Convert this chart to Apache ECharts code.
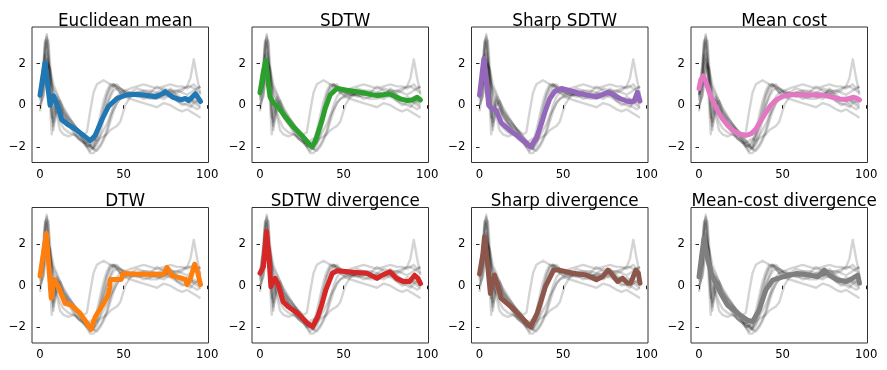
<!DOCTYPE html>
<html>
<head>
<meta charset="utf-8">
<title>barycenters</title>
<script src="https://cdn.jsdelivr.net/npm/echarts@6/dist/echarts.min.js"></script>
<style>
  html, body { margin: 0; padding: 0; background: #fff; }
  #main { width: 887px; height: 370px; }
</style>
</head>
<body>
<div id="main"></div>
<script>
// 输入序列（灰色）共用的 x 位置
var xs = [0,2,3,4,5,6,7,8,10,12,14,17,20,23,26,28,30,32,34,36,38,40,42,44,46,48,51,54,58,62,66,70,74,78,82,85,88,90,92,94,96];

// 十条灰色输入序列
var g1 = [0.5,1.8,3.0,3.3,2.4,0.8,-0.6,-0.2, 0.4,0.0,-0.5,-0.8,-1.0,-1.2,-1.5,-1.7,-1.9, -2.0,-1.5,-0.8,-0.1,0.5,0.9,1.0,0.9,0.8, 0.6,0.5,0.6,0.5,0.5,0.4,0.5,0.7,0.4,0.3, 0.2,0.1,0.3,0.2,0.1];
var g2 = [0.4,1.2,2.6,3.4,2.9,1.2,-0.2,-1.2, 0.2,-0.1,-0.4,-0.7,-1.1,-1.3,-1.6,-1.8,-2.0, -2.1,-1.6,-1.0,-0.3,0.4,0.8,1.0,0.8,0.6, 0.5,0.4,0.5,0.4,0.3,0.3,0.5,0.6,0.2,0.1, 0.0,-0.1,0.1,0.0,-0.1];
var g3 = [0.6,2.0,3.1,2.8,1.5,0.0,-1.4,-0.5, 0.3,-0.2,-0.6,-0.9,-1.1,-1.4,-1.7,-1.9,-2.0, -1.8,-1.2,-0.5,0.2,0.7,1.0,0.9,0.8,0.6, 0.4,0.5,0.6,0.6,0.4,0.5,0.4,0.8,0.5,0.3, 0.2,0.3,0.2,0.1,0.0];
var g4 = [0.5,1.0,2.2,3.0,3.1,2.0,0.5,-0.8, 0.0,0.2,-0.2,-0.6,-0.9,-1.2,-1.5,-1.7,-1.9, -2.1,-1.9,-1.4,-0.7,0.0,0.5,0.9,1.0,0.8, 0.6,0.5,0.5,0.6,0.5,0.5,0.6,0.5,0.3,0.2, 0.4,0.3,0.1,0.2,0.3];
var g5 = [-0.3,0.8,1.8,2.5,2.2,1.6,1.0,0.6, 0.3,0.0,-0.3,-0.6,-0.9,-1.2,-1.4,-1.3,-0.3, 0.6,1.0,1.1,1.2,1.1,1.0,1.0,0.9,0.8, 0.7,0.8,0.9,1.0,0.9,0.8,0.9,1.0,0.9,0.9, 0.8,0.9,0.8,0.7,0.6];
var g6 = [0.3,1.5,2.4,2.0,1.6,1.3,1.0,0.8, 0.5,0.2,-0.1,-0.5,-0.9,-1.3,-1.7,-2.0,-2.3, -2.3,-2.1,-1.9,-1.6,-1.2,-0.6,0.0,0.4,0.6, 0.7,0.6,0.8,0.7,0.6,0.9,0.7,0.6,0.7,0.8, 0.9,1.3,2.2,1.3,0.5];
var g7 = [0.0,0.5,1.2,1.8,2.0,1.7,1.2,0.5, -0.3,-0.8,-1.1,-1.3,-1.4,-1.6,-1.8,-2.0,-2.2, -2.0,-1.8,-1.6,-1.5,-1.4,-1.2,-1.1,-1.0,-0.8, 0.0,0.4,0.6,0.7,0.7,0.6,0.8,0.7,0.7,0.6, 0.5,0.6,0.7,0.8,0.9];
var g8 = [0.2,1.0,1.6,2.2,2.0,1.5,0.8,0.0, -0.5,-1.2,-1.4,-1.5,-1.4,-1.5,-1.7,-1.9,-2.0, -2.1,-2.2,-2.0,-1.7,-1.3,-0.8,-0.3,0.1,0.3, 0.4,0.3,0.2,0.1,0.0,-0.1,0.1,0.0,-0.2,-0.3, -0.2,-0.3,-0.4,-0.5,-0.6];
var g9 = [0.5,1.6,2.8,3.2,2.0,0.6,-0.4,-1.0, -0.3,-0.2,-0.5,-0.9,-1.3,-1.6,-1.8,-2.0,-1.9, -1.7,-1.4,-1.0,-0.5,0.0,0.4,0.7,0.8,0.7, 0.6,0.6,0.5,0.3,0.4,0.6,0.5,0.4,0.2,0.0, 0.1,0.0,-0.1,-0.2,-0.1];
var g10 = [0.0,0.4,1.0,1.6,1.9,1.8,1.4,1.0, 0.6,0.2,-0.3,-0.8,-1.2,-1.6,-1.8,-1.8,-1.7, -1.6,-1.7,-1.5,-1.2,-0.9,-0.5,-0.2,0.1,0.3, 0.5,0.6,0.4,0.5,0.6,0.4,0.3,0.5,0.6,0.7, 0.9,0.9,1.0,0.8,0.9];

// 各方法得到的重心序列
var blueX = [0,3,4.5,6,8,9,11,13,17,22,26,30,33,37,41,46,51,56,63,69,72,75,79,84,87,89,93,96];
var blueY = [0.48,2.05,1.0,0.0,0.45,0.4,-0.15,-0.7,-0.95,-1.2,-1.45,-1.7,-1.45,-0.7,-0.05,0.32,0.48,0.52,0.48,0.4,0.5,0.65,0.4,0.25,0.32,0.22,0.55,0.18];
var greenX = [0,2,3.5,5,6,8,11,15,20,25,31,33,35,37,39,42,46,52,60,66,70,74,77,80,84,88,91,94,96];
var greenY = [0.6,1.6,2.15,1.0,0.4,0.1,-0.1,-0.55,-1.05,-1.45,-2.0,-1.75,-1.25,-0.75,-0.15,0.5,0.8,0.72,0.62,0.52,0.46,0.5,0.55,0.45,0.3,0.22,0.25,0.38,0.25];
var purpleX = [0,2.6,4,5.5,7,10,13,18,25,30.5,34,37,39.5,42,45,49,55,60,65,70,74,77,80,84,88,91,92.5,94.5,96];
var purpleY = [0.48,2.24,1.2,0.0,-0.15,-0.25,-0.85,-1.2,-1.6,-2.0,-1.6,-0.9,-0.25,0.3,0.65,0.8,0.68,0.56,0.47,0.4,0.52,0.62,0.5,0.32,0.2,0.15,0.2,0.62,0.2];
var pinkX = [0,1,2.5,4,6,8,11,14,17,20,24,28,31,34,37,40,43,46,50,55,60,65,70,75,80,84,88,92,94,96];
var pinkY = [0.8,1.2,1.4,1.15,0.65,0.25,-0.25,-0.65,-0.95,-1.2,-1.38,-1.45,-1.38,-1.15,-0.75,-0.35,0.0,0.25,0.42,0.5,0.5,0.48,0.5,0.47,0.38,0.3,0.27,0.38,0.35,0.25];
var orangeX = [0,3.8,6.7,8.3,11,15,19,24,29.5,30.5,33,38,40.7,41.7,42,48.6,49.6,60,74,76,79,83,87,88,90,92.5,94,96];
var orangeY = [0.47,2.5,-0.6,0.3,-0.05,-0.85,-0.95,-1.33,-1.97,-2.1,-1.5,-0.85,-0.45,-0.1,0.3,0.3,0.58,0.55,0.55,0.87,0.47,0.4,0.3,0.05,0.35,1.03,0.75,0.05];
var redX = [0,2,3.9,5.3,6.5,8.9,10.9,13.8,16.7,22.6,28.6,31.5,34.5,37,39.4,43.3,46.3,56,64,70,73,77.7,81.7,85.6,89.5,92.5,94.5,96];
var redY = [0.6,0.9,2.6,1.4,-0.05,0.35,0.04,-0.77,-1.0,-1.33,-1.81,-1.97,-1.5,-0.9,-0.2,0.6,0.72,0.64,0.6,0.35,0.5,0.67,0.35,0.2,0.2,0.5,0.35,0.1];
var brownX = [0,2,3,4,4.9,6.5,8.9,10.8,12.8,18.7,24.6,30.5,34.5,39.4,44.3,47,56,63.9,69.9,73.8,76.8,78.7,82.6,85.6,88.6,90.5,93.5,95,96];
var brownY = [0.56,1.5,2.35,2.3,0.94,-0.37,0.51,0.04,-0.6,-1.0,-1.48,-1.97,-1.33,-0.05,0.75,0.75,0.6,0.51,0.28,0.44,0.75,0.6,0.2,0.36,0.12,0.12,0.75,0.6,0.12];
var grayX = [0,1.5,3,5.3,7.3,10,13,17,23,29,32,36,40,44,50.6,58.5,66,71,75,78,83,88,92,95,96];
var grayY = [0.43,1.4,2.3,1.24,0.6,0.12,-0.37,-0.93,-1.33,-1.65,-1.73,-1.17,-0.2,0.27,0.43,0.59,0.51,0.43,0.75,0.51,0.27,0.2,0.36,0.5,0.12];

var titles = ["Euclidean mean", "SDTW", "Sharp SDTW", "Mean cost",
              "DTW", "SDTW divergence", "Sharp divergence", "Mean-cost divergence"];
var colors = ["#1f77b4", "#2ca02c", "#9467bd", "#e377c2",
              "#ff7f0e", "#d62728", "#8c564b", "#7f7f7f"];
var xTicks = [0, 50, 100];
var yTicks = [-2, 0, 2];

(function() {
  var myChart = echarts.init(document.getElementById("main"));
  var font = "DejaVu Sans";

  function pairs(xArr, yArr) {
    var out = [];
    for (var k = 0; k < xArr.length; k++) out.push([xArr[k], yArr[k]]);
    return out;
  }

  var grays = [g1, g2, g3, g4, g5, g6, g7, g8, g9, g10];
  var bary = [
    [blueX, blueY], [greenX, greenY], [purpleX, purpleY], [pinkX, pinkY],
    [orangeX, orangeY], [redX, redY], [brownX, brownY], [grayX, grayY]
  ];

  // 子图位置
  var lefts = [32, 252, 471.5, 691];
  var tops = [27, 207.5];
  var w = 176.5, h = 135.5;

  var grid = [], xAxis = [], yAxis = [], title = [], series = [];
  for (var i = 0; i < 8; i++) {
    var col = i % 4, row = i < 4 ? 0 : 1;
    grid.push({
      left: lefts[col], top: tops[row], width: w, height: h,
      show: true, borderColor: "#333", borderWidth: 1, backgroundColor: "#fff"
    });
    title.push({
      text: titles[i],
      left: lefts[col] + w / 2,
      textAlign: "center",
      top: tops[row] - 19,
      textStyle: { fontFamily: font, fontSize: 16.8, fontWeight: "normal", color: "#000" }
    });
    xAxis.push({
      gridIndex: i, type: "value", min: -4.8, max: 100.8,
      axisLine: { show: false },
      splitLine: { show: false },
      axisTick: { show: true, length: 3.5, customValues: xTicks, lineStyle: { color: "#222", width: 1 } },
      axisLabel: { customValues: xTicks, color: "#000", fontFamily: font, fontSize: 11.7, margin: 6 }
    });
    yAxis.push({
      gridIndex: i, type: "value", min: -2.75, max: 3.75,
      axisLine: { show: false },
      splitLine: { show: false },
      axisTick: { show: true, length: 3.5, customValues: yTicks, lineStyle: { color: "#222", width: 1 } },
      axisLabel: {
        customValues: yTicks, color: "#000", fontFamily: font, fontSize: 11.7, margin: 6,
        formatter: function(v) { return String(v).replace("-", "\u2212"); }
      }
    });
    // 灰色输入序列
    for (var j = 0; j < grays.length; j++) {
      series.push({
        type: "line", xAxisIndex: i, yAxisIndex: i,
        data: pairs(xs, grays[j]),
        symbol: "none", silent: true, z: 2,
        lineStyle: { color: "rgba(0,0,0,0.17)", width: 2.4, join: "round" }
      });
    }
    // 重心
    series.push({
      type: "line", xAxisIndex: i, yAxisIndex: i,
      data: pairs(bary[i][0], bary[i][1]),
      symbol: "none", silent: true, z: 3,
      lineStyle: { color: colors[i], width: 5, join: "round", cap: "round" }
    });
  }

  var option = {
    animation: false,
    backgroundColor: "#fff",
    title: title,
    grid: grid,
    xAxis: xAxis,
    yAxis: yAxis,
    series: series
  };
  myChart.setOption(option);
  window.addEventListener("resize", function() {
    myChart.resize();
  });
})();
</script>
</body>
</html>
